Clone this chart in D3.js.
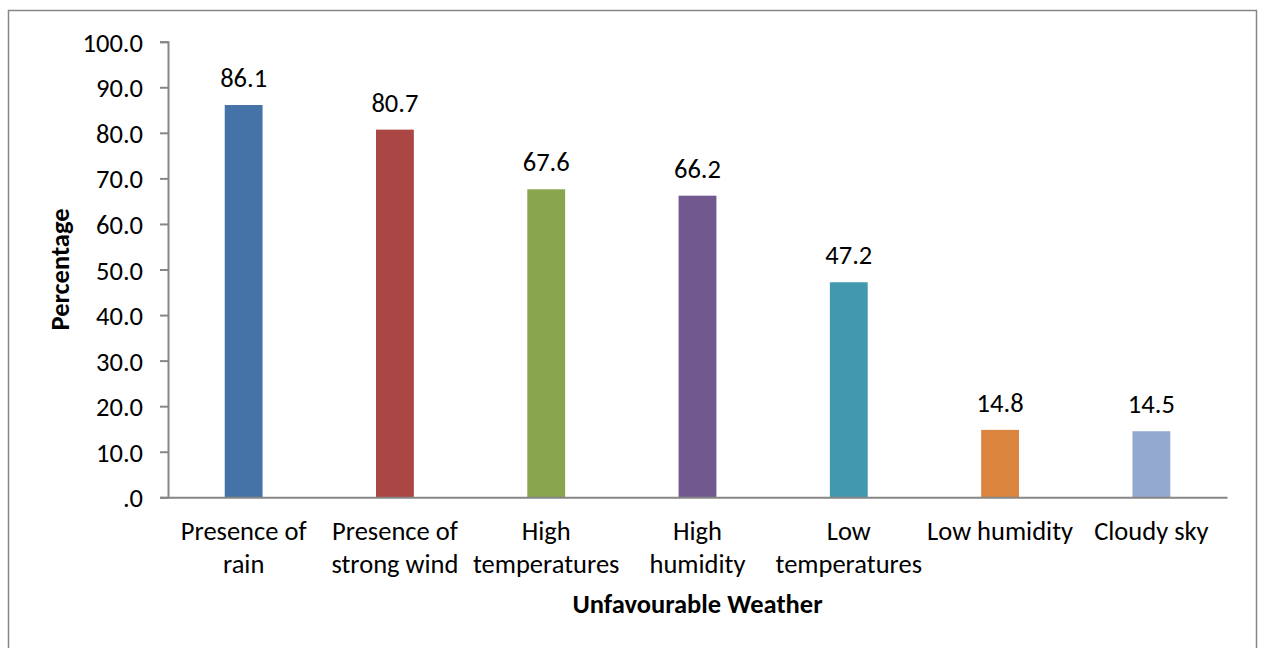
<!DOCTYPE html>
<html>
<head>
<meta charset="utf-8">
<script src="https://cdn.jsdelivr.net/npm/d3@7"></script>
<style>
  html, body { margin: 0; padding: 0; background: #fff; }
  svg text { font-family: Carlito, Lato, "Open Sans", sans-serif; fill: #000; }
</style>
</head>
<body>
<svg id="chart" width="1264" height="648"></svg>
<script>
// Share of respondents naming each kind of unfavourable weather
const categories = [
  ["Presence of", "rain"],
  ["Presence of", "strong wind"],
  ["High", "temperatures"],
  ["High", "humidity"],
  ["Low", "temperatures"],
  ["Low humidity"],
  ["Cloudy sky"]
];
const values = [86.1, 80.7, 67.6, 66.2, 47.2, 14.8, 14.5];
const colors = ["#4572A7", "#AA4643", "#89A54E", "#71588F", "#4198AF", "#DB843D", "#93A9CF"];
const yTicks = [0, 10, 20, 30, 40, 50, 60, 70, 80, 90, 100];

const svg = d3.select("#chart");
const axisColor = "#868686";
const fontSize = 26.5;

// outer chart frame
svg.append("rect")
  .attr("x", 8.5).attr("y", 10.5)
  .attr("width", 1248).attr("height", 660)
  .attr("fill", "none").attr("stroke", axisColor).attr("stroke-width", 1.5);

const plot = { left: 168, right: 1227, top: 41.7, bottom: 497.3 };

const x = d3.scaleBand()
  .domain(d3.range(categories.length))
  .range([plot.left, plot.right])
  .paddingInner(0.75).paddingOuter(0.375);

const y = d3.scaleLinear().domain([0, 100]).range([plot.bottom, plot.top]);

const fmt = v => v === 0 ? ".0" : d3.format(".1f")(v);

// y axis
const yAxis = svg.append("g")
  .attr("transform", `translate(${plot.left},0)`)
  .call(d3.axisLeft(y).tickValues(yTicks).tickFormat(fmt).tickSize(8).tickPadding(17));
yAxis.select(".domain").attr("stroke", axisColor).attr("stroke-width", 2);
yAxis.selectAll(".tick line").attr("stroke", axisColor).attr("stroke-width", 2);
yAxis.selectAll(".tick text").attr("font-size", fontSize).attr("dy", "0.36em")
  .style("font-family", "Carlito, Lato, sans-serif");

// bars
svg.append("g").selectAll("rect")
  .data(values)
  .join("rect")
  .attr("x", (d, i) => x(i))
  .attr("y", d => y(d))
  .attr("width", x.bandwidth())
  .attr("height", d => y(0) - y(d))
  .attr("fill", (d, i) => colors[i]);

// value labels
svg.append("g").selectAll("text")
  .data(values)
  .join("text")
  .attr("x", (d, i) => x(i) + x.bandwidth() / 2)
  .attr("y", d => y(d) - 18)
  .attr("text-anchor", "middle")
  .attr("font-size", fontSize)
  .text(d => d3.format(".1f")(d));

// x axis baseline
const xAxis = svg.append("g")
  .attr("transform", `translate(0,${plot.bottom})`)
  .call(d3.axisBottom(x).tickSize(0).tickFormat(""));
xAxis.select(".domain").attr("stroke", axisColor).attr("stroke-width", 2);

// category labels, one tspan per line
const catLabels = svg.append("g").selectAll("text")
  .data(categories)
  .join("text")
  .attr("text-anchor", "middle")
  .attr("font-size", fontSize)
  .attr("transform", (d, i) => `translate(${x(i) + x.bandwidth() / 2},540)`);
catLabels.selectAll("tspan")
  .data(d => d)
  .join("tspan")
  .attr("x", 0)
  .attr("y", (d, j) => j * 33)
  .text(d => d);

// axis titles
svg.append("text")
  .attr("x", (plot.left + plot.right) / 2)
  .attr("y", 613)
  .attr("text-anchor", "middle")
  .attr("font-size", fontSize)
  .attr("font-weight", "bold")
  .text("Unfavourable Weather");

svg.append("text")
  .attr("transform", `translate(69,${(plot.top + plot.bottom) / 2}) rotate(-90)`)
  .attr("text-anchor", "middle")
  .attr("font-size", fontSize)
  .attr("font-weight", "bold")
  .text("Percentage");
</script>
</body>
</html>
